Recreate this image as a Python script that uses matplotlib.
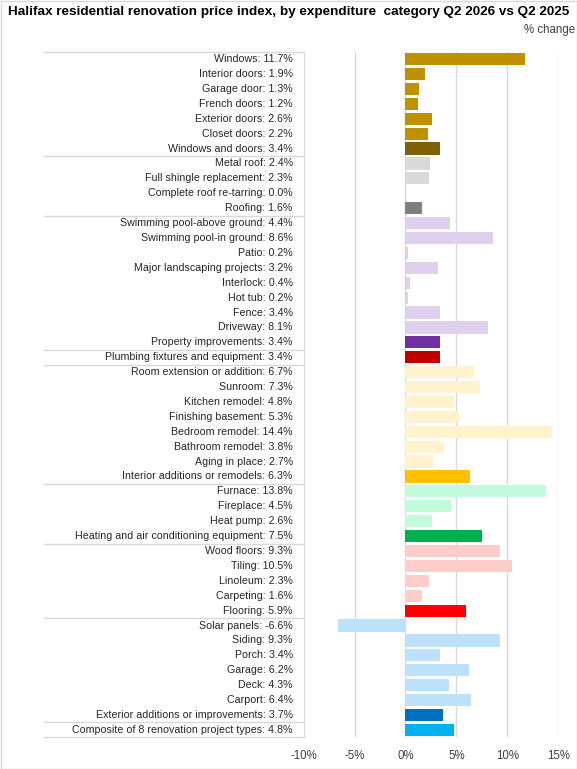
import matplotlib
matplotlib.use("Agg")
import matplotlib.pyplot as plt
from matplotlib.patches import Rectangle

plt.rcParams["font.family"] = ["Liberation Sans", "DejaVu Sans"]

TITLE = "Halifax residential renovation price index, by expenditure  category Q2 2026 vs Q2 2025"
UNIT = "% change"

# groups: items first, then the aggregate row
windows_labels = ["Windows", "Interior doors", "Garage door", "French doors",
                  "Exterior doors", "Closet doors", "Windows and doors"]
windows_values = [11.7, 1.9, 1.3, 1.2, 2.6, 2.2, 3.4]

roof_labels = ["Metal roof", "Full shingle replacement", "Complete roof re-tarring", "Roofing"]
roof_values = [2.4, 2.3, 0.0, 1.6]

property_labels = ["Swimming pool-above ground", "Swimming pool-in ground", "Patio",
                   "Major landscaping projects", "Interlock", "Hot tub", "Fence",
                   "Driveway", "Property improvements"]
property_values = [4.4, 8.6, 0.2, 3.2, 0.4, 0.2, 3.4, 8.1, 3.4]

plumbing_labels = ["Plumbing fixtures and equipment"]
plumbing_values = [3.4]

interior_labels = ["Room extension or addition", "Sunroom", "Kitchen remodel",
                   "Finishing basement", "Bedroom remodel", "Bathroom remodel",
                   "Aging in place", "Interior additions or remodels"]
interior_values = [6.7, 7.3, 4.8, 5.3, 14.4, 3.8, 2.7, 6.3]

heating_labels = ["Furnace", "Fireplace", "Heat pump", "Heating and air conditioning equipment"]
heating_values = [13.8, 4.5, 2.6, 7.5]

flooring_labels = ["Wood floors", "Tiling", "Linoleum", "Carpeting", "Flooring"]
flooring_values = [9.3, 10.5, 2.3, 1.6, 5.9]

exterior_labels = ["Solar panels", "Siding", "Porch", "Garage", "Deck", "Carport",
                   "Exterior additions or improvements"]
exterior_values = [-6.6, 9.3, 3.4, 6.2, 4.3, 6.4, 3.7]

composite_labels = ["Composite of 8 renovation project types"]
composite_values = [4.8]

x_ticks = [-10, -5, 0, 5, 10, 15]

# (labels, values, item colour, aggregate colour)
groups = [
    (windows_labels, windows_values, "#BF9000", "#7F6000"),
    (roof_labels, roof_values, "#D9D9D9", "#7F7F7F"),
    (property_labels, property_values, "#DFD0EF", "#7030A0"),
    (plumbing_labels, plumbing_values, "#C00000", "#C00000"),
    (interior_labels, interior_values, "#FFF2CC", "#FFC000"),
    (heating_labels, heating_values, "#C1FBDC", "#00B050"),
    (flooring_labels, flooring_values, "#FFCCCC", "#FF0000"),
    (exterior_labels, exterior_values, "#BDE1FA", "#0070C0"),
    (composite_labels, composite_values, "#00B0F0", "#00B0F0"),
]

labels, values, colors, breaks = [], [], [], []
for labs, vals, c_item, c_agg in groups:
    for i, (lab, v) in enumerate(zip(labs, vals)):
        labels.append(lab)
        values.append(v)
        colors.append(c_agg if i == len(labs) - 1 else c_item)
    breaks.append(len(labels))

W, H = 577, 769
fig = plt.figure(figsize=(W / 100, H / 100), dpi=100)

x0, x1 = 303.6, 558.3
y0, y1 = 51.7, 737.3
ax = fig.add_axes([x0 / W, 1 - y1 / H, (x1 - x0) / W, (y1 - y0) / H])

n = len(values)
pos = list(range(n))
ax.barh(pos, values, height=0.82, color=colors, zorder=2)
ax.set_xlim(-10, 15)
ax.set_ylim(n - 0.5, -0.5)

for t in x_ticks[1:]:
    ax.axvline(t, color="#D9D9D9", lw=1, zorder=1)

for s in ["top", "right", "bottom"]:
    ax.spines[s].set_visible(False)
ax.spines["left"].set_color("#D9D9D9")
ax.set_yticks([])
ax.set_xticks(x_ticks)
ax.set_xticklabels([f"{t}%" for t in x_ticks])
ax.tick_params(axis="x", length=0, pad=9, labelsize=8.3, colors="#404040")

# label column
col_left = (44 - x0) / (x1 - x0)
tr = ax.get_yaxis_transform()
for p, lab, v in zip(pos, labels, values):
    ax.text(-0.043, p, f"{lab}: {v:.1f}%", transform=tr, ha="right", va="center",
            fontsize=7.7, color="#262626")

for b in [0] + breaks:
    ax.plot([col_left, 0], [b - 0.5, b - 0.5], transform=tr, color="#D9D9D9",
            lw=1, clip_on=False, zorder=1)

fig.text(8 / W, 1 - 12.5 / H, TITLE, ha="left", va="center", fontsize=9.7,
         fontweight="bold", color="black")
fig.text(575 / W, 1 - 30 / H, UNIT, ha="right", va="center", fontsize=8.3,
         color="#404040")

fig.patches.append(Rectangle((0.5 / W, 0.5 / H), 1 - 1 / W, 1 - 1 / H,
                             transform=fig.transFigure, fill=False,
                             edgecolor="#D9D9D9", lw=1))

fig.savefig("out.png", dpi=100)
